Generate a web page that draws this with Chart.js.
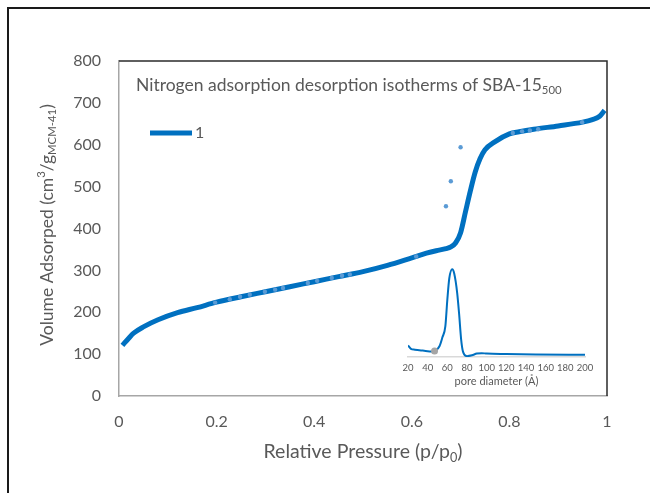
<!DOCTYPE html>
<html>
<head>
<meta charset="utf-8">
<script src="https://cdn.jsdelivr.net/npm/chart.js@4/dist/chart.umd.min.js"></script>
<style>
    html, body { margin: 0; padding: 0; background: #fff; overflow: hidden; }
    #frame { position: absolute; left: 7px; top: 7px; width: 700px; height: 600px; border: 2px solid #1a1a1a; box-sizing: border-box; }
    #main { position: absolute; left: 0; top: 0; }
    #inset { position: absolute; left: 395px; top: 255px; }
</style>
</head>
<body>
<div id="frame"></div>
<canvas id="main" width="650" height="493"></canvas>
<canvas id="inset" width="205" height="135"></canvas>
<script>
// isotherm (relative pressure vs volume adsorbed)
const pressure = [0.007, 0.02, 0.03, 0.05, 0.08, 0.12, 0.16, 0.2, 0.25, 0.3, 0.35, 0.4, 0.45, 0.5, 0.55, 0.6, 0.63, 0.65, 0.67, 0.68, 0.69, 0.7, 0.71, 0.72, 0.73, 0.74, 0.75, 0.77, 0.8, 0.82, 0.85, 0.9, 0.95, 0.97, 0.985, 0.995];
const adsorbed = [121, 138, 150, 165, 182, 199, 211, 224, 237, 249, 261, 273, 285, 297, 312, 330, 341, 347, 352, 356, 366, 390, 440, 490, 535, 567, 588, 607, 626, 631, 637, 645, 654, 660, 668, 682];

// lighter measured points
const dotPressure = [0.197, 0.227, 0.248, 0.268, 0.299, 0.32, 0.336, 0.387, 0.406, 0.436, 0.457, 0.473, 0.609, 0.67, 0.68, 0.7, 0.807, 0.826, 0.842, 0.859, 0.949];
const dotAdsorbed = [223, 231, 237, 242, 249, 254, 258, 270, 275, 282, 287, 290, 333, 453, 513, 594, 628, 632, 634, 637, 654];

const xTickLabels = ["0", "0.2", "0.4", "0.6", "0.8", "1"];

// inset: pore size distribution
const poreDiameter = [20, 23, 27, 35, 45, 48, 52, 55, 58, 60, 62, 65, 67, 70, 72, 74, 76, 80, 85, 90, 95, 100, 120, 150, 200];
const poreVolume = [0.22, 0.14, 0.12, 0.10, 0.08, 0.10, 0.2, 0.41, 0.67, 1.29, 1.79, 2.0, 1.9, 1.45, 0.95, 0.37, 0.07, -0.03, -0.01, 0.03, 0.04, 0.03, 0.02, 0.01, 0.0];
const markerDiameter = [47];
const markerVolume = [0.09];

const FONT = "Lato, 'Open Sans', sans-serif";
const GREY = "#595959";

function toPoints(xs, ys) {
    return xs.map((x, i) => ({ x: x, y: ys[i] }));
}

// text with sub/superscript pieces
function drawRuns(ctx, runs, x, y, size, align) {
    let total = 0;
    const widths = runs.map((r) => {
        ctx.font = (r.sub || r.sup ? size * 0.65 : size) + "px " + FONT;
        const w = ctx.measureText(r.t).width;
        total += w;
        return w;
    });
    let cx = align === "center" ? x - total / 2 : x;
    ctx.textAlign = "left";
    ctx.textBaseline = "middle";
    runs.forEach((r, i) => {
        ctx.font = (r.sub || r.sup ? size * 0.65 : size) + "px " + FONT;
        const dy = r.sub ? size * 0.3 : r.sup ? -size * 0.3 : 0;
        ctx.fillText(r.t, cx, y + dy);
        cx += widths[i];
    });
}

const decor = {
    id: "decor",
    afterDraw(chart) {
        const ctx = chart.ctx;
        const a = chart.chartArea;
        ctx.save();
        // top and right edges of the plot box
        ctx.strokeStyle = "#2b2b2b";
        ctx.lineWidth = 1.5;
        ctx.beginPath();
        ctx.moveTo(a.left, a.top);
        ctx.lineTo(a.right, a.top);
        ctx.lineTo(a.right, a.bottom);
        ctx.stroke();

        ctx.fillStyle = GREY;
        drawRuns(ctx, [
            { t: "Nitrogen adsorption desorption isotherms of SBA-15" },
            { t: "500", sub: true },
        ], 136, 85, 17.5, "left");

        // legend
        ctx.strokeStyle = "#0070C0";
        ctx.lineWidth = 5;
        ctx.beginPath();
        ctx.moveTo(150, 133);
        ctx.lineTo(192, 133);
        ctx.stroke();
        drawRuns(ctx, [{ t: "1" }], 195, 133, 16, "left");

        drawRuns(ctx, [
            { t: "Relative Pressure (p/p" },
            { t: "0", sub: true },
            { t: ")" },
        ], 363, 452, 19.5, "center");

        ctx.translate(47, 225);
        ctx.rotate(-Math.PI / 2);
        drawRuns(ctx, [
            { t: "Volume Adsorped (cm" },
            { t: "3", sup: true },
            { t: "/g" },
            { t: "MCM-41", sub: true },
            { t: ")" },
        ], 0, 0, 17.5, "center");
        ctx.restore();
    },
};

new Chart(document.getElementById("main"), {
    type: "scatter",
    data: {
        datasets: [
            {
                label: "points",
                data: toPoints(dotPressure, dotAdsorbed),
                pointRadius: 2.2,
                pointBorderWidth: 0,
                pointBackgroundColor: "#5B9BD5",
                showLine: false,
                order: 0,
            },
            {
                label: "1",
                data: toPoints(pressure, adsorbed),
                showLine: true,
                borderColor: "#0070C0",
                borderWidth: 5,
                pointRadius: 0,
                cubicInterpolationMode: "monotone",
                order: 1,
            },
        ],
    },
    options: {
        responsive: false,
        animation: false,
        layout: { padding: { left: 0, top: 61, right: 43, bottom: 0 } },
        plugins: { legend: { display: false }, tooltip: { enabled: false } },
        scales: {
            x: {
                type: "linear",
                min: 0,
                max: 1,
                afterFit: (s) => { s.height = 97; },
                grid: { display: false, drawTicks: false },
                border: { color: "#A6A6A6", width: 1.5 },
                ticks: {
                    stepSize: 0.2,
                    padding: 16,
                    color: GREY,
                    font: { family: FONT, size: 16 },
                    callback: (v, i) => xTickLabels[i],
                },
            },
            y: {
                min: 0,
                max: 800,
                afterFit: (s) => { s.width = 119; },
                grid: { display: false, drawTicks: false },
                border: { color: "#A6A6A6", width: 1.5 },
                ticks: { stepSize: 100, padding: 18, color: GREY, font: { family: FONT, size: 16 } },
            },
        },
    },
    plugins: [decor],
});

new Chart(document.getElementById("inset"), {
    type: "scatter",
    data: {
        datasets: [
            {
                data: toPoints(markerDiameter, markerVolume),
                pointRadius: 3.5,
                pointBorderWidth: 0,
                pointBackgroundColor: "#A5A5A5",
                order: 0,
            },
            {
                data: toPoints(poreDiameter, poreVolume),
                showLine: true,
                borderColor: "#0070C0",
                borderWidth: 2,
                pointRadius: 0,
                cubicInterpolationMode: "monotone",
                order: 1,
            },
        ],
    },
    options: {
        responsive: false,
        animation: false,
        layout: { padding: { left: 13, right: 15, top: 10, bottom: 0 } },
        plugins: { legend: { display: false }, tooltip: { enabled: false } },
        scales: {
            x: {
                type: "linear",
                min: 20,
                max: 200,
                afterFit: (s) => { s.height = 33; },
                grid: { display: false, drawTicks: false },
                border: { color: "#D9D9D9", width: 1.5 },
                ticks: {
                    stepSize: 20,
                    padding: 5,
                    color: GREY,
                    autoSkip: false,
                    maxRotation: 0,
                    minRotation: 0,
                    font: { family: FONT, size: 9.5 },
                },
                title: { display: true, text: "pore diameter (Å)", color: GREY, padding: 2, font: { family: FONT, size: 11 } },
            },
            y: { display: false, min: -0.05, max: 2.1 },
        },
    },
});
</script>
</body>
</html>
